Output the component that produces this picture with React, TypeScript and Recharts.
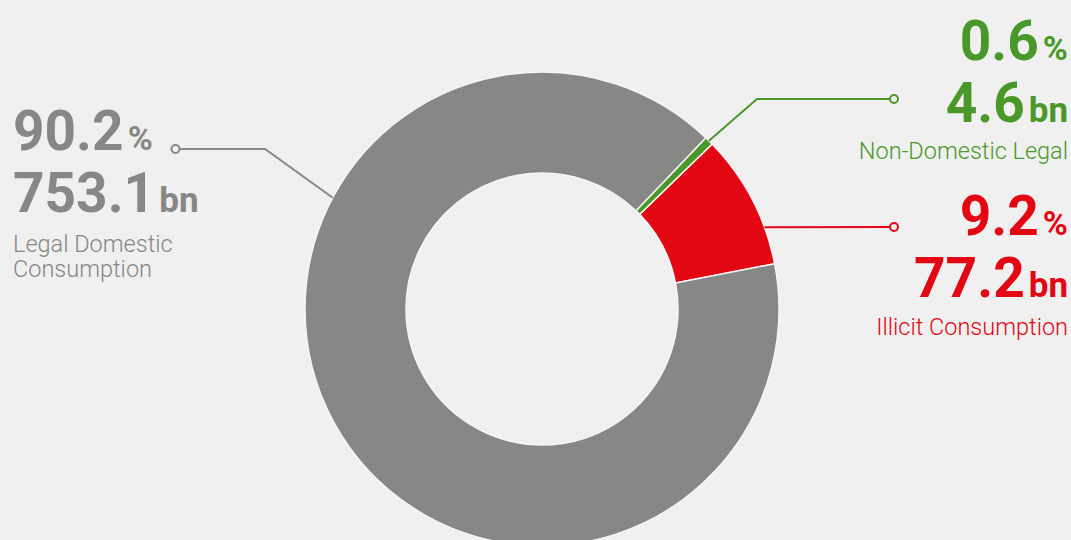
import React from 'react';
import { PieChart, Pie, Cell } from 'recharts';

const categories = ['Illicit Consumption', 'Non-Domestic Legal', 'Legal Domestic Consumption'];
const shares = [9.2, 0.6, 90.2];
const valuesBn = [77.2, 4.6, 753.1];
const labelLines = [['Illicit Consumption'], ['Non-Domestic Legal'], ['Legal Domestic', 'Consumption']];
const colors = ['#e30613', '#4a982a', '#878786'];

const data = categories.map((name, i) => ({ name, value: shares[i], bn: valuesBn[i], lines: labelLines[i] }));

const BG = '#f0f0f0';
const FONT = 'Roboto, "Open Sans", sans-serif';

// label layout (annotation geometry only)
const layouts = [
  { angle: 20.2, path: [[890, 227]], dot: [894, 227], x: 1068, anchor: 'end', ys: [235, 297, 335] },
  { angle: null, path: [[757, 99], [890, 99]], dot: [894, 99], x: 1068, anchor: 'end', ys: [60, 122, 159] },
  { angle: 152, path: [[265, 149], [180, 149]], dot: [175.5, 149], x: 13, anchor: 'start', ys: [150, 212, 252] },
];

const RAD = Math.PI / 180;

const renderLabel = (props: any) => {
  const { cx, cy, outerRadius, midAngle, index } = props;
  const L = layouts[index];
  const color = colors[index];
  const ang = L.angle == null ? midAngle : L.angle;
  const ax = cx + outerRadius * Math.cos(ang * RAD);
  const ay = cy - outerRadius * Math.sin(ang * RAD);
  const pts = [[ax, ay], ...L.path].map((p) => p.join(',')).join(' ');
  const d = data[index];
  return (
    <g key={`lbl-${index}`}>
      <polyline points={pts} fill="none" stroke={color} strokeWidth={2} />
      <circle cx={L.dot[0]} cy={L.dot[1]} r={4} fill={BG} stroke={color} strokeWidth={2} />
      <text x={L.x} y={L.ys[0]} textAnchor={L.anchor} fill={color} fontFamily={FONT} fontWeight={700}>
        <tspan fontSize={55}>{d.value.toFixed(1)}</tspan>
        <tspan fontSize={34} dx={4}>%</tspan>
      </text>
      <text x={L.x} y={L.ys[1]} textAnchor={L.anchor} fill={color} fontFamily={FONT} fontWeight={700}>
        <tspan fontSize={55}>{d.bn.toFixed(1)}</tspan>
        <tspan fontSize={35} dx={4}>bn</tspan>
      </text>
      <text x={L.x} y={L.ys[2]} textAnchor={L.anchor} fill={color} fontFamily={FONT} fontWeight={300} fontSize={23.5}>
        {d.lines.map((ln: string, k: number) => (
          <tspan key={k} x={L.x} dy={k === 0 ? 0 : 25}>
            {ln}
          </tspan>
        ))}
      </text>
    </g>
  );
};

export default function App() {
  return (
    <div style={{ position: 'fixed', left: 0, top: 0, width: 1071, height: 540, background: BG, overflow: 'hidden' }}>
      <PieChart width={1071} height={540} margin={{ top: 0, right: 0, bottom: 0, left: 0 }}>
        <Pie
          data={data}
          dataKey="value"
          cx={542}
          cy={309}
          innerRadius={136}
          outerRadius={237}
          startAngle={11}
          endAngle={371}
          stroke="#f6f6f6"
          strokeWidth={1.5}
          label={renderLabel}
          labelLine={false}
          isAnimationActive={false}
        >
          {data.map((_, i) => (
            <Cell key={i} fill={colors[i]} />
          ))}
        </Pie>
      </PieChart>
    </div>
  );
}
